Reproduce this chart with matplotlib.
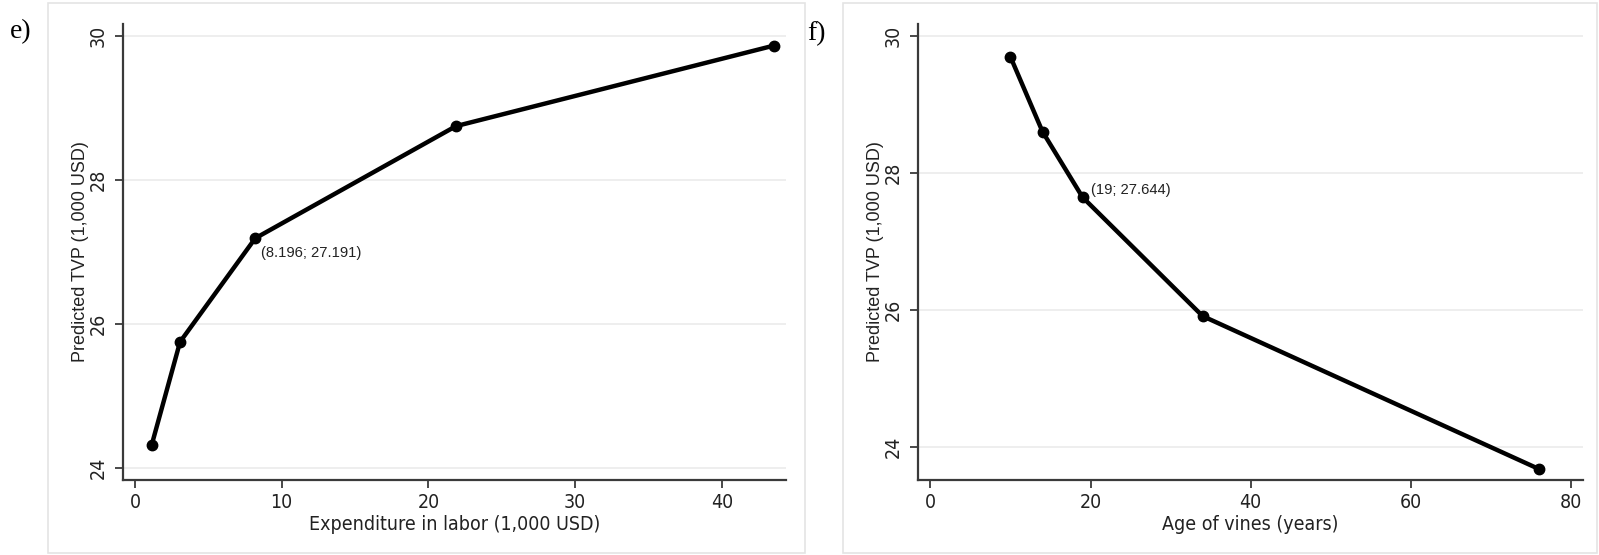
import matplotlib.pyplot as plt
from matplotlib.patches import Rectangle
from matplotlib import font_manager

# panel e) labor expenditure vs predicted TVP
labor_x = [1.14, 3.07, 8.196, 21.88, 43.56]
labor_y = [24.32, 25.75, 27.191, 28.75, 29.87]
# panel f) age of vines vs predicted TVP
age_x = [10, 14, 19, 34, 76]
age_y = [29.69, 28.60, 27.644, 25.91, 23.68]

yticks = [24, 26, 28, 30]

narrow = font_manager.FontProperties(family='DejaVu Sans', stretch='condensed', size=14)
regular = ['Liberation Sans', 'DejaVu Sans']
serif = ['Liberation Serif', 'DejaVu Serif']

fig = plt.figure(figsize=(15.99, 5.55), dpi=100)
W, H = 1599, 555

# light grey panel frames
for x0, x1 in [(48, 805), (843, 1597)]:
    fig.patches.append(Rectangle((x0 / W, 1 - 553 / H), (x1 - x0) / W, 550 / H,
                                 transform=fig.transFigure, fill=False,
                                 edgecolor='#e4e4e4', linewidth=1.2))


def panel(rect, x, y, xlim, ylim, xticks, xlabel, note, note_idx, offset):
    ax = fig.add_axes(rect)
    ax.plot(x, y, color='black', linewidth=3.2, marker='o', markersize=7.5,
            solid_joinstyle='round')
    ax.set_xlim(*xlim)
    ax.set_ylim(*ylim)
    ax.set_yticks(yticks)
    ax.set_xticks(xticks)
    for s in ['top', 'right']:
        ax.spines[s].set_visible(False)
    for s in ['left', 'bottom']:
        ax.spines[s].set_color('#3a3a3a')
        ax.spines[s].set_linewidth(1.6)
    ax.grid(axis='y', color='#ebebeb', linewidth=1.2)
    ax.set_axisbelow(True)
    ax.tick_params(direction='out', length=6, width=1.3, color='#3a3a3a',
                   labelcolor='#222222')
    ax.tick_params(axis='y', pad=5)
    for lab in ax.get_yticklabels():
        lab.set_rotation(90)
        lab.set_va('center')
        lab.set_fontproperties(narrow)
    for lab in ax.get_xticklabels():
        lab.set_fontproperties(narrow)
    ax.set_xlabel(xlabel, fontproperties=narrow, color='#222222', labelpad=2)
    ax.set_ylabel('Predicted TVP (1,000 USD)', family=regular, fontsize=13,
                  color='#222222', labelpad=0)
    ax.annotate(note, (x[note_idx], y[note_idx]), xytext=offset,
                textcoords='offset pixels', family=regular, fontsize=10.6,
                color='#222222', va='center', ha='left')
    return ax


panel([123 / W, 1 - 480 / H, 663 / W, 456 / H], labor_x, labor_y,
      (-0.82, 44.38), (23.83, 30.17), [0, 10, 20, 30, 40],
      'Expenditure in labor (1,000 USD)', '(8.196; 27.191)', 2, (6, -15))
panel([918 / W, 1 - 480 / H, 665 / W, 456 / H], age_x, age_y,
      (-1.55, 81.5), (23.52, 30.17), [0, 20, 40, 60, 80],
      'Age of vines (years)', '(19; 27.644)', 2, (8, 7))

fig.text(10 / W, 1 - 32 / H, 'e)', family=serif, fontsize=20, va='center')
fig.text(807 / W, 1 - 34 / H, 'f)', family=serif, fontsize=20, va='center')

fig.savefig('out.png', dpi=100)
